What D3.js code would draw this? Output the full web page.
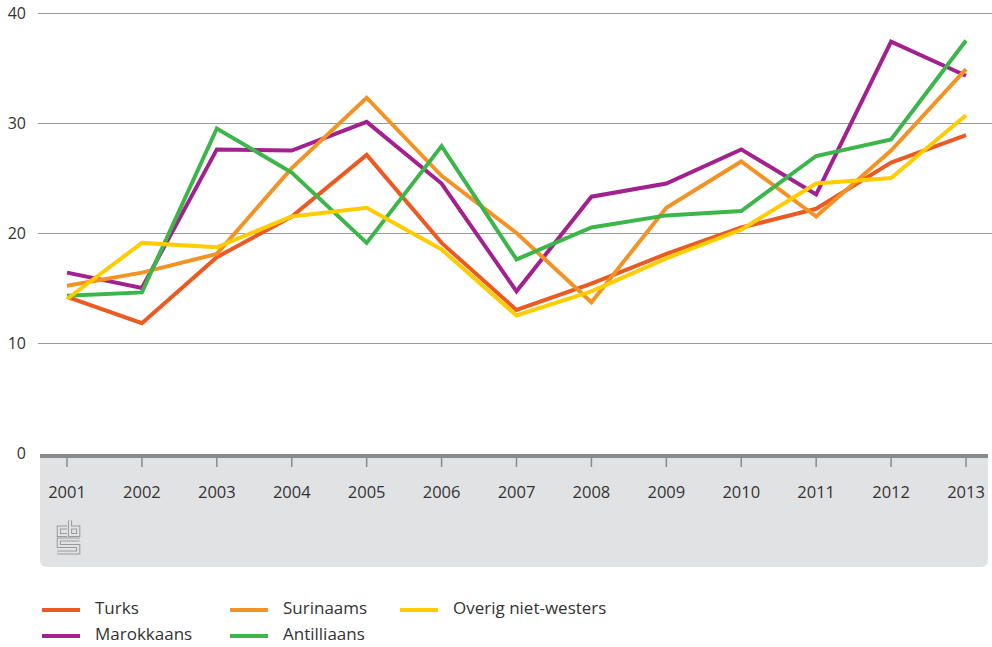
<!DOCTYPE html>
<html>
<head>
<meta charset="utf-8">
<script src="https://cdn.jsdelivr.net/npm/d3@7"></script>
<style>
	body { margin: 0; background: #fff; }
	svg text { font-family: "Open Sans", sans-serif; fill: #333; }
	.grid line { stroke: #999; stroke-width: 1; }
</style>
</head>
<body>
<script>
var w = 992, h = 647;

// Data
var years = [2001, 2002, 2003, 2004, 2005, 2006, 2007, 2008, 2009, 2010, 2011, 2012, 2013];
var yTicks = [0, 10, 20, 30, 40];

var turks       = [14.2, 11.8, 17.8, 21.5, 27.1, 19.1, 13.0, 15.4, 18.1, 20.5, 22.2, 26.4, 28.9];
var marokkaans  = [16.4, 15.0, 27.6, 27.5, 30.1, 24.5, 14.7, 23.3, 24.5, 27.6, 23.5, 37.4, 34.3];
var surinaams   = [15.2, 16.4, 18.1, 25.9, 32.3, 25.2, 20.0, 13.7, 22.3, 26.5, 21.5, 27.5, 34.9];
var antilliaans = [14.3, 14.6, 29.5, 25.5, 19.1, 27.9, 17.6, 20.5, 21.6, 22.0, 27.0, 28.5, 37.5];
var overig      = [14.0, 19.1, 18.7, 21.5, 22.3, 18.5, 12.5, 14.7, 17.7, 20.3, 24.5, 25.0, 30.7];

var series = [
	{ name: "Turks", values: turks, color: "#ec5a24" },
	{ name: "Marokkaans", values: marokkaans, color: "#a3218e" },
	{ name: "Surinaams", values: surinaams, color: "#f39325" },
	{ name: "Antilliaans", values: antilliaans, color: "#3cb54a" },
	{ name: "Overig niet-westers", values: overig, color: "#ffcc00" }
];

// legend layout: column-major order as in the picture
var legendOrder = ["Turks", "Surinaams", "Overig niet-westers", "Marokkaans", "Antilliaans"];

var svg = d3.select("body").append("svg")
	.attr("width", w)
	.attr("height", h);

// Scales
var x = d3.scalePoint()
	.domain(years)
	.range([67, 966]);

var y = d3.scaleLinear()
	.domain([0, 40])
	.range([453, 13]);

// Grey box under the axis
var boxTop = 455, boxBottom = 567, boxLeft = 40, boxRight = 988, r = 7;
svg.append("path")
	.attr("d", "M" + boxLeft + "," + boxTop +
		"H" + boxRight +
		"V" + (boxBottom - r) +
		"Q" + boxRight + "," + boxBottom + " " + (boxRight - r) + "," + boxBottom +
		"H" + (boxLeft + r) +
		"Q" + boxLeft + "," + boxBottom + " " + boxLeft + "," + (boxBottom - r) + "Z")
	.attr("fill", "#e1e2e4");

// Gridlines
var grid = svg.append("g").attr("class", "grid");
grid.selectAll("line")
	.data(yTicks.filter(function(d) { return d > 0; }))
	.enter()
	.append("line")
		.attr("x1", 38)
		.attr("x2", w)
		.attr("y1", function(d) { return Math.round(y(d)) + 0.5; })
		.attr("y2", function(d) { return Math.round(y(d)) + 0.5; });

// Y labels
svg.append("g").selectAll("text")
	.data(yTicks)
	.enter()
	.append("text")
		.attr("x", 26)
		.attr("y", function(d) { return y(d); })
		.attr("dy", "0.35em")
		.attr("text-anchor", "end")
		.style("font-size", "16px")
		.text(function(d) { return d; });

// Base axis line
svg.append("line")
	.attr("x1", boxLeft)
	.attr("x2", boxRight)
	.attr("y1", 456)
	.attr("y2", 456)
	.attr("stroke", "#8a8a8c")
	.attr("stroke-width", 4);

// Year ticks
var xAxis = svg.append("g");
xAxis.selectAll("line")
	.data(years)
	.enter()
	.append("line")
		.attr("x1", function(d) { return x(d); })
		.attr("x2", function(d) { return x(d); })
		.attr("y1", 458)
		.attr("y2", 467)
		.attr("stroke", "#8a8a8c")
		.attr("stroke-width", 1.5);

xAxis.selectAll("text")
	.data(years)
	.enter()
	.append("text")
		.attr("x", function(d) { return x(d); })
		.attr("y", 492)
		.attr("dy", "0.35em")
		.attr("text-anchor", "middle")
		.style("font-size", "16.5px")
		.text(function(d) { return d; });

// CBS logo (outlined strokes)
var logo = svg.append("g")
	.attr("transform", "translate(57,520)")
	.attr("fill", "none");
var logoPaths = ["M10,7.5H1.8V15H10", "M13,0.5V15H21.2V7.5H13", "M22.5,19.5H1.8V26H21.2V32.5H0.5"];
logo.selectAll("path.outer")
	.data(logoPaths)
	.enter()
	.append("path")
		.attr("d", function(d) { return d; })
		.attr("stroke", "#9a9a9c")
		.attr("stroke-width", 4.2);
logo.selectAll("path.inner")
	.data(logoPaths)
	.enter()
	.append("path")
		.attr("d", function(d) { return d; })
		.attr("stroke", "#e1e2e4")
		.attr("stroke-width", 2.2);

// Lines
var line = d3.line()
	.x(function(d, i) { return x(years[i]); })
	.y(function(d) { return y(d); });

svg.append("g").selectAll("path")
	.data(series)
	.enter()
	.append("path")
		.attr("d", function(d) { return line(d.values); })
		.attr("fill", "none")
		.attr("stroke", function(d) { return d.color; })
		.attr("stroke-width", 4)
		.attr("stroke-linejoin", "miter");

// Legend
var colX = [42, 230, 400], rowY = [608, 634];
var legend = svg.append("g").selectAll("g")
	.data(legendOrder)
	.enter()
	.append("g")
		.attr("transform", function(d, i) {
			return "translate(" + colX[i % 3] + "," + rowY[Math.floor(i / 3)] + ")";
		});

legend.append("line")
	.attr("x1", 0)
	.attr("x2", 38)
	.attr("y1", 2)
	.attr("y2", 2)
	.attr("stroke-width", 4)
	.attr("stroke", function(d) {
		return series.filter(function(s) { return s.name == d; })[0].color;
	});

legend.append("text")
	.attr("x", 53)
	.attr("y", 0)
	.attr("dy", "0.35em")
	.style("font-size", "17px")
	.text(function(d) { return d; });
</script>
</body>
</html>
